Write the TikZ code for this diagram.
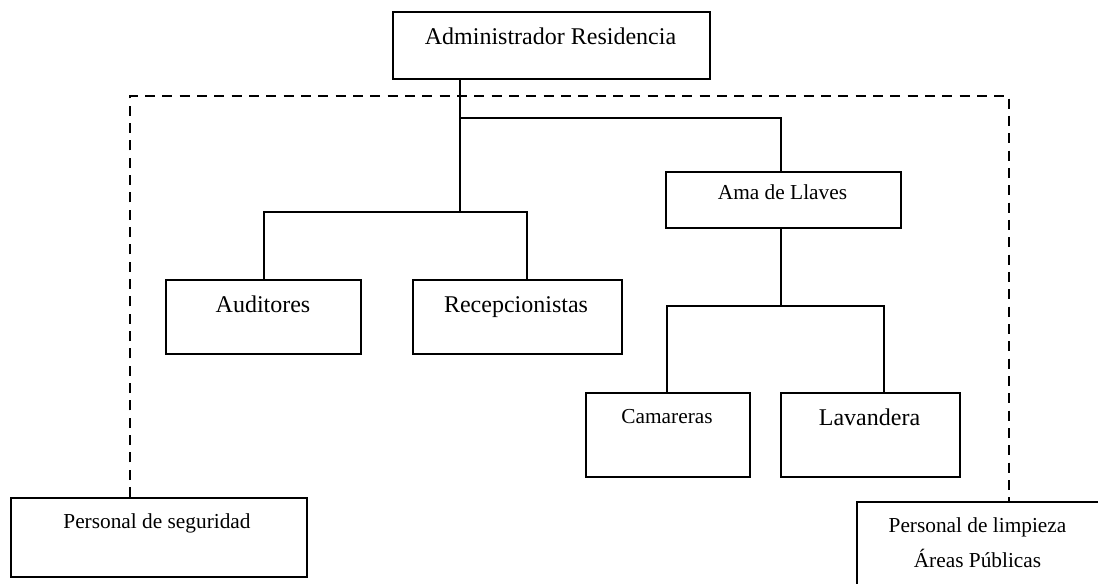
\documentclass[tikz,border=0pt]{standalone}
\usepackage{fontspec}
\setmainfont{Liberation Serif}
\begin{document}
\begin{tikzpicture}[x=0.75pt,y=-0.75pt,
  unitbox/.style={draw=black,line width=1.3pt,inner sep=0pt,anchor=north west,fill=white},
  big/.style={font=\fontsize{18}{20}\selectfont,anchor=base,inner sep=0pt},
  small/.style={font=\fontsize{16}{18}\selectfont,anchor=base,inner sep=0pt},
  link/.style={draw=black,line width=1.2pt},
  staff/.style={draw=black,line width=1.9pt,dash pattern=on 7.5pt off 5.5pt}]
\useasboundingbox (0,0) rectangle (1098,584);
\clip (0,0) rectangle (1098,584);

% boxes
\node[unitbox,minimum width=317*0.75pt,minimum height=67*0.75pt] (adm) at (392,11) {};
\node[unitbox,minimum width=235*0.75pt,minimum height=56*0.75pt] (ama) at (665,171) {};
\node[unitbox,minimum width=195*0.75pt,minimum height=74*0.75pt] (aud) at (165,279) {};
\node[unitbox,minimum width=209*0.75pt,minimum height=74*0.75pt] (rec) at (412,279) {};
\node[unitbox,minimum width=164*0.75pt,minimum height=84*0.75pt] (cam) at (585,392) {};
\node[unitbox,minimum width=179*0.75pt,minimum height=84*0.75pt] (lav) at (780,392) {};
\node[unitbox,minimum width=296*0.75pt,minimum height=79*0.75pt] (seg) at (10,497) {};
\node[unitbox,minimum width=246*0.75pt,minimum height=100*0.75pt] (lim) at (856,501) {};

% labels
\node[big] (admT) at (550.5,45) {Administrador Residencia};
\node[small] (amaT) at (782.5,200) {Ama de Llaves};
\node[big] (audT) at (263,312) {Auditores};
\node[big] (recT) at (516,312) {Recepcionistas};
\node[small] (camT) at (667,423) {Camareras};
\node[big] (lavT) at (869.5,425) {Lavandera};
\node[small] (segT) at (157,528) {Personal de seguridad};
\node[small] (limT1) at (977.5,532) {Personal de limpieza};
\node[small] (limT2) at (977.5,567) {Áreas Públicas};

% junction points of the tree
\coordinate (trunk) at (460,118);
\coordinate (split) at (460,212);
\coordinate (audJ) at (264,212);
\coordinate (recJ) at (527,212);
\coordinate (amaJ) at (781,118);
\coordinate (bar) at (781,306);
\coordinate (camJ) at (667,306);
\coordinate (lavJ) at (884,306);

% solid connectors
\draw[link] (adm.south -| trunk) -- (split);
\draw[link] (trunk) -- (amaJ) -- (ama.north -| amaJ);
\draw[link] (aud.north -| audJ) -- (audJ) -- (recJ) -- (rec.north -| recJ);
\draw[link] (ama.south -| bar) -- (bar);
\draw[link] (cam.north -| camJ) -- (camJ) -- (lavJ) -- (lav.north -| lavJ);

% dashed staff frame
\coordinate (fl) at (130,96);
\coordinate (fr) at (1009,96);
\draw[staff] (seg.north -| fl) -- (fl) -- (fr) -- (lim.north -| fr);
\end{tikzpicture}
\end{document}
